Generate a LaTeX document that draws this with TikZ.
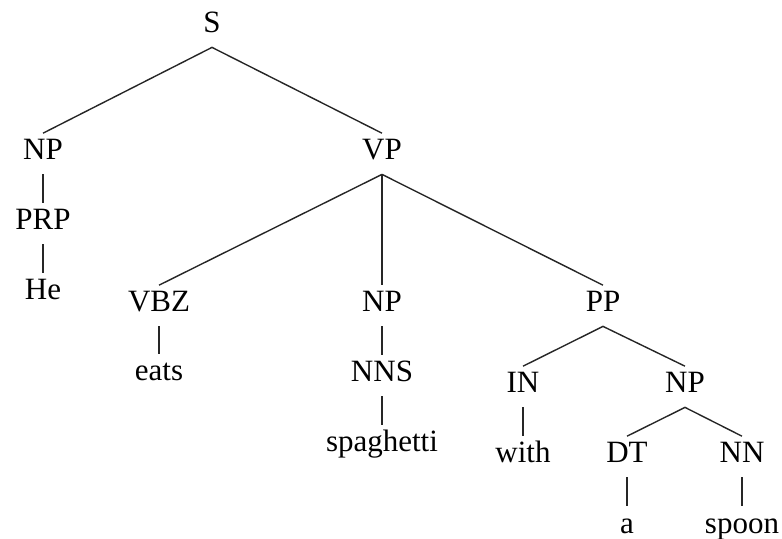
\documentclass[tikz,border=0pt]{standalone}
\usepackage{fontspec}
\setmainfont{Liberation Serif}
\begin{document}
\begin{tikzpicture}[x=0.5pt,y=-0.5pt,
  lbl/.style={anchor=base,inner xsep=0pt,inner ysep=3pt,text height=10.2pt,text depth=4pt,font=\fontsize{15.5}{18}\selectfont},
  edge/.style={draw=black!85,line width=0.7pt}]
\useasboundingbox (0,0) rectangle (782,539);
\node[lbl] (S) at (212,33) {S};
\node[lbl] (NP) at (43,160) {NP};
\node[lbl] (VP) at (382,160) {VP};
\node[lbl] (PRP) at (43,230) {PRP};
\node[lbl] (He) at (43,300) {He};
\node[lbl] (VBZ) at (159,312) {VBZ};
\node[lbl] (NP2) at (382,312) {NP};
\node[lbl] (PP) at (603,312) {PP};
\node[lbl] (eats) at (159,381) {eats};
\node[lbl] (NNS) at (382,382) {NNS};
\node[lbl] (spag) at (382,452) {spaghetti};
\node[lbl] (IN) at (523,393) {IN};
\node[lbl] (NP3) at (685,393) {NP};
\node[lbl] (with) at (523,463) {with};
\node[lbl] (DT) at (627,463) {DT};
\node[lbl] (NN) at (742,463) {NN};
\node[lbl] (a) at (627,533) {a};
\node[lbl] (spoon) at (742,533) {spoon};
\draw[edge] (NP.north) -- (S.south) -- (VP.north);
\draw[edge] (NP.south) -- (PRP.north);
\draw[edge] (PRP.south) -- (He.north);
\draw[edge] (VP.south) -- (VBZ.north);
\draw[edge] (VP.south) -- (NP2.north);
\draw[edge] (VP.south) -- (PP.north);
\draw[edge] (VBZ.south) -- (eats.north);
\draw[edge] (NP2.south) -- (NNS.north);
\draw[edge] (NNS.south) -- (spag.north);
\draw[edge] (IN.north) -- (PP.south) -- (NP3.north);
\draw[edge] (IN.south) -- (with.north);
\draw[edge] (DT.north) -- (NP3.south) -- (NN.north);
\draw[edge] (DT.south) -- (a.north);
\draw[edge] (NN.south) -- (spoon.north);
\end{tikzpicture}
\end{document}
